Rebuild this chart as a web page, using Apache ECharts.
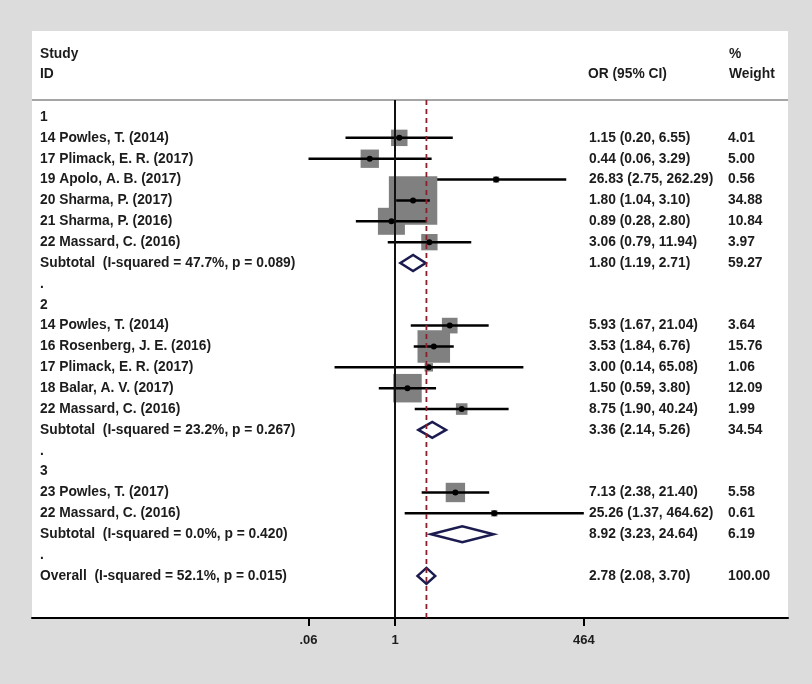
<!DOCTYPE html>
<html><head><meta charset="utf-8">
<script src="https://cdn.jsdelivr.net/npm/echarts@6/dist/echarts.min.js"></script>
<style>html,body{margin:0;padding:0;background:#dcdcdc}#c{width:812px;height:684px}</style>
</head><body><div id="c"></div>
<script>
// ---------- data ----------
const rowLabels = [
  "1",
  "14 Powles, T. (2014)",
  "17 Plimack, E. R. (2017)",
  "19 Apolo, A. B. (2017)",
  "20 Sharma, P. (2017)",
  "21 Sharma, P. (2016)",
  "22 Massard, C. (2016)",
  "Subtotal  (I-squared = 47.7%, p = 0.089)",
  ".",
  "2",
  "14 Powles, T. (2014)",
  "16 Rosenberg, J. E. (2016)",
  "17 Plimack, E. R. (2017)",
  "18 Balar, A. V. (2017)",
  "22 Massard, C. (2016)",
  "Subtotal  (I-squared = 23.2%, p = 0.267)",
  ".",
  "3",
  "23 Powles, T. (2017)",
  "22 Massard, C. (2016)",
  "Subtotal  (I-squared = 0.0%, p = 0.420)",
  ".",
  "Overall  (I-squared = 52.1%, p = 0.015)"
];
const rowKind = ["group","study","study","study","study","study","study","subtotal","gap",
                 "group","study","study","study","study","study","subtotal","gap",
                 "group","study","study","subtotal","gap","overall"];
const orEst  = [null,1.15,0.44,26.83,1.80,0.89,3.06,1.80,null,
                null,5.93,3.53,3.00,1.50,8.75,3.36,null,
                null,7.13,25.26,8.92,null,2.78];
const ciLow  = [null,0.20,0.06,2.75,1.04,0.28,0.79,1.19,null,
                null,1.67,1.84,0.14,0.59,1.90,2.14,null,
                null,2.38,1.37,3.23,null,2.08];
const ciHigh = [null,6.55,3.29,262.29,3.10,2.80,11.94,2.71,null,
                null,21.04,6.76,65.08,3.80,40.24,5.26,null,
                null,21.40,464.62,24.64,null,3.70];
const weights = [null,4.01,5.00,0.56,34.88,10.84,3.97,59.27,null,
                 null,3.64,15.76,1.06,12.09,1.99,34.54,null,
                 null,5.58,0.61,6.19,null,100.00];
const overallOR = 2.78;
const nullOR = 1;
const tickValues = [0.06, 1, 464];
const tickLabels = [".06", "1", "464"];
const headerLeft = ["Study", "ID"];
const headerEst = "OR (95% CI)";
const headerWeight = ["%", "Weight"];

// ---------- layout ----------
const FAMILY = '"Liberation Sans", Arial, sans-serif';
const FONT = 'bold 13.8px ' + FAMILY;
const TXT = '#1c1c1c';
const pxPerDecade = 70.8;
const nullPx = 395, leftPx = 32, rightPx = 788;
const xMin = (leftPx - nullPx) / pxPerDecade;
const xMax = (rightPx - nullPx) / pxPerDecade;
const row0 = 117, pitch = 20.86, topPx = 31, botPx = 618;
const yMin = (topPx - row0) / pitch;
const yMax = (botPx - row0) / pitch;
const sepRow = (100 - row0) / pitch;
const boxScale = 8.2;
const L = v => Math.log10(v);

const rowsIdx = rowLabels.map((_, i) => [i]);

function renderMark(params, api) {
  const i = api.value(0);
  if (orEst[i] == null) return null;
  const y = api.coord([0, i])[1];
  const xc = api.coord([L(orEst[i]), i])[0];
  const xl = api.coord([L(ciLow[i]), i])[0];
  const xh = api.coord([L(ciHigh[i]), i])[0];
  if (rowKind[i] === 'study') {
    const s = boxScale * Math.sqrt(weights[i]);
    return {type: 'group', children: [
      {type: 'rect', shape: {x: xc - s / 2, y: y - s / 2, width: s, height: s}, style: {fill: '#808080'}},
      {type: 'line', shape: {x1: xl, y1: y, x2: xh, y2: y}, style: {stroke: '#000', lineWidth: 2.5}},
      {type: 'circle', shape: {cx: xc, cy: y, r: 3}, style: {fill: '#000'}}
    ]};
  }
  const h = 8;
  return {type: 'polygon', z2: 5,
    shape: {points: [[xl, y], [xc, y - h], [xh, y], [xc, y + h]]},
    style: {fill: '#fff', stroke: '#1b1b50', lineWidth: 2.5}};
}

function txt(t, x, y) {
  return {type: 'text', style: {text: t, x: x, y: y, font: FONT, fill: TXT, verticalAlign: 'middle', align: 'left'}};
}

function renderText(params, api) {
  const i = api.value(0);
  const cs = params.coordSys;
  const y = api.coord([0, i])[1];
  const kids = [txt(rowLabels[i], cs.x + 8, y)];
  if (orEst[i] != null) {
    kids.push(txt(orEst[i].toFixed(2) + ' (' + ciLow[i].toFixed(2) + ', ' + ciHigh[i].toFixed(2) + ')', cs.x + 557, y));
    kids.push(txt(weights[i].toFixed(2), cs.x + 696, y));
  }
  return {type: 'group', children: kids};
}

function renderHeader(params, api) {
  const cs = params.coordSys;
  const y1 = api.coord([0, (54 - row0) / pitch])[1];
  const y2 = api.coord([0, (74 - row0) / pitch])[1];
  return {type: 'group', children: [
    txt(headerLeft[0], cs.x + 8, y1), txt(headerLeft[1], cs.x + 8, y2),
    txt(headerEst, cs.x + 556, y2),
    txt(headerWeight[0], cs.x + 697, y1), txt(headerWeight[1], cs.x + 697, y2)
  ]};
}

const chart = echarts.init(document.getElementById('c'), null, {renderer: 'canvas'});
chart.setOption({
  backgroundColor: '#dcdcdc',
  animation: false,
  grid: {left: leftPx, right: 812 - rightPx, top: topPx, bottom: 684 - botPx,
         show: true, backgroundColor: '#ffffff', borderWidth: 0},
  xAxis: {
    type: 'value', min: xMin, max: xMax,
    splitLine: {show: false},
    axisLine: {show: true, onZero: false, lineStyle: {color: '#000', width: 2}},
    axisTick: {show: true, length: 8, lineStyle: {color: '#000', width: 2}, customValues: tickValues.map(L)},
    axisLabel: {show: true, margin: 16, customValues: tickValues.map(L),
      formatter: v => { const k = tickValues.map(L).findIndex(t => Math.abs(t - v) < 1e-6); return k >= 0 ? tickLabels[k] : ''; },
      color: TXT, fontSize: 13, fontWeight: 'bold', fontFamily: FAMILY}
  },
  yAxis: {type: 'value', min: yMin, max: yMax, inverse: true, show: false},
  series: [
    {type: 'line', data: [[xMin, sepRow], [xMax, sepRow]], symbol: 'none', silent: true,
     lineStyle: {color: '#a6a6a6', width: 2}, z: 2},
    {type: 'custom', renderItem: renderMark, data: rowsIdx, clip: false, z: 3, silent: true},
    {type: 'line', data: [[L(nullOR), sepRow], [L(nullOR), yMax]], symbol: 'none', silent: true,
     lineStyle: {color: '#111', width: 2}, z: 4},
    {type: 'line', data: [[L(overallOR), sepRow], [L(overallOR), yMax]], symbol: 'none', silent: true,
     lineStyle: {color: '#8b1e2a', width: 1.8, type: [5, 4]}, z: 4},
    {type: 'custom', renderItem: renderText, data: rowsIdx, clip: false, z: 5, silent: true},
    {type: 'custom', renderItem: renderHeader, data: [[0]], clip: false, z: 5, silent: true}
  ]
});
</script></body></html>
